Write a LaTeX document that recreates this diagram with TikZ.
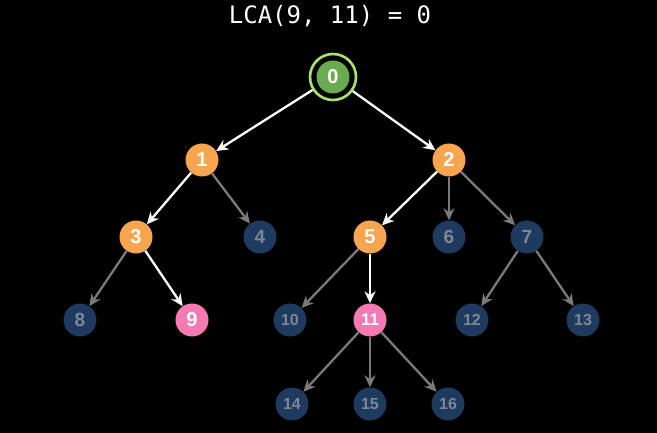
\documentclass[tikz,border=0pt]{standalone}
\usepackage{fontspec}
\setmainfont{Liberation Sans}
\newfontfamily\codefont{DejaVu Sans Mono}
\usetikzlibrary{arrows.meta}
\definecolor{pathOrange}{HTML}{F8A550}
\definecolor{rootGreen}{HTML}{6AAA50}
\definecolor{ringGreen}{HTML}{A6E46A}
\definecolor{endPink}{HTML}{F57AB2}
\definecolor{restNavy}{HTML}{1E3A5E}
\definecolor{restText}{HTML}{7D8896}
\definecolor{restEdge}{HTML}{7A7A7A}

\begin{document}
\begin{tikzpicture}
[x=1pt,y=-1pt,
  nodeDecorate/.style={shape=circle,inner sep=0pt,minimum size=33pt,font=\bfseries\fontsize{#1}{#1}\selectfont},%
  nodeBig/.style={nodeDecorate=20,text=white},%
  nodeSmall/.style={nodeDecorate=#1,fill=restNavy,text=restText},%
  lineActive/.style={-{Stealth[length=12pt,width=11pt]},white,line width=2.3pt},%
  lineRest/.style={-{Stealth[length=12pt,width=11pt]},restEdge,line width=2.3pt}]
\fill[black] (0,0) rectangle (657,433);
%% title
\node (title) at (330,16) [text=white,font=\codefont\fontsize{24}{24}\selectfont] {LCA(9, 11) = 0};
%% nodes on the path
\node (0) at (333,77) [nodeBig,fill=rootGreen] {0};
\node (ring) at (333,77) [shape=circle,minimum size=46pt,draw=ringGreen,line width=2.6pt] {};
\foreach \nodename/\x/\y in {1/202/160, 2/449/160, 3/136/237, 5/370/237} {
  \node (\nodename) at (\x,\y) [nodeBig,fill=pathOrange] {\nodename};
}
\node (9) at (192,320) [nodeBig,fill=endPink] {9};
\node (11) at (370,320) [nodeDecorate=17,text=white,fill=endPink] {11};
%% other nodes
\foreach \nodename/\x/\y/\fs in {4/260/237/19, 6/449/237/19, 7/527/237/19, 8/80/320/19, 10/290/320/16,
  12/472/320/16, 13/583/320/16, 14/292/404/16, 15/370/404/16, 16/448/404/16} {
  \node (\nodename) at (\x,\y) [nodeSmall=\fs] {\nodename};
}
%% edges
\path
\foreach \startnode/\endnode in {ring/1, ring/2, 1/3, 3/9, 2/5, 5/11} {
  (\startnode) edge[lineActive] (\endnode)
}
\foreach \startnode/\endnode in {1/4, 3/8, 2/6, 2/7, 5/10, 7/12, 7/13, 11/14, 11/15, 11/16} {
  (\startnode) edge[lineRest] (\endnode)
};
\end{tikzpicture}
\end{document}
